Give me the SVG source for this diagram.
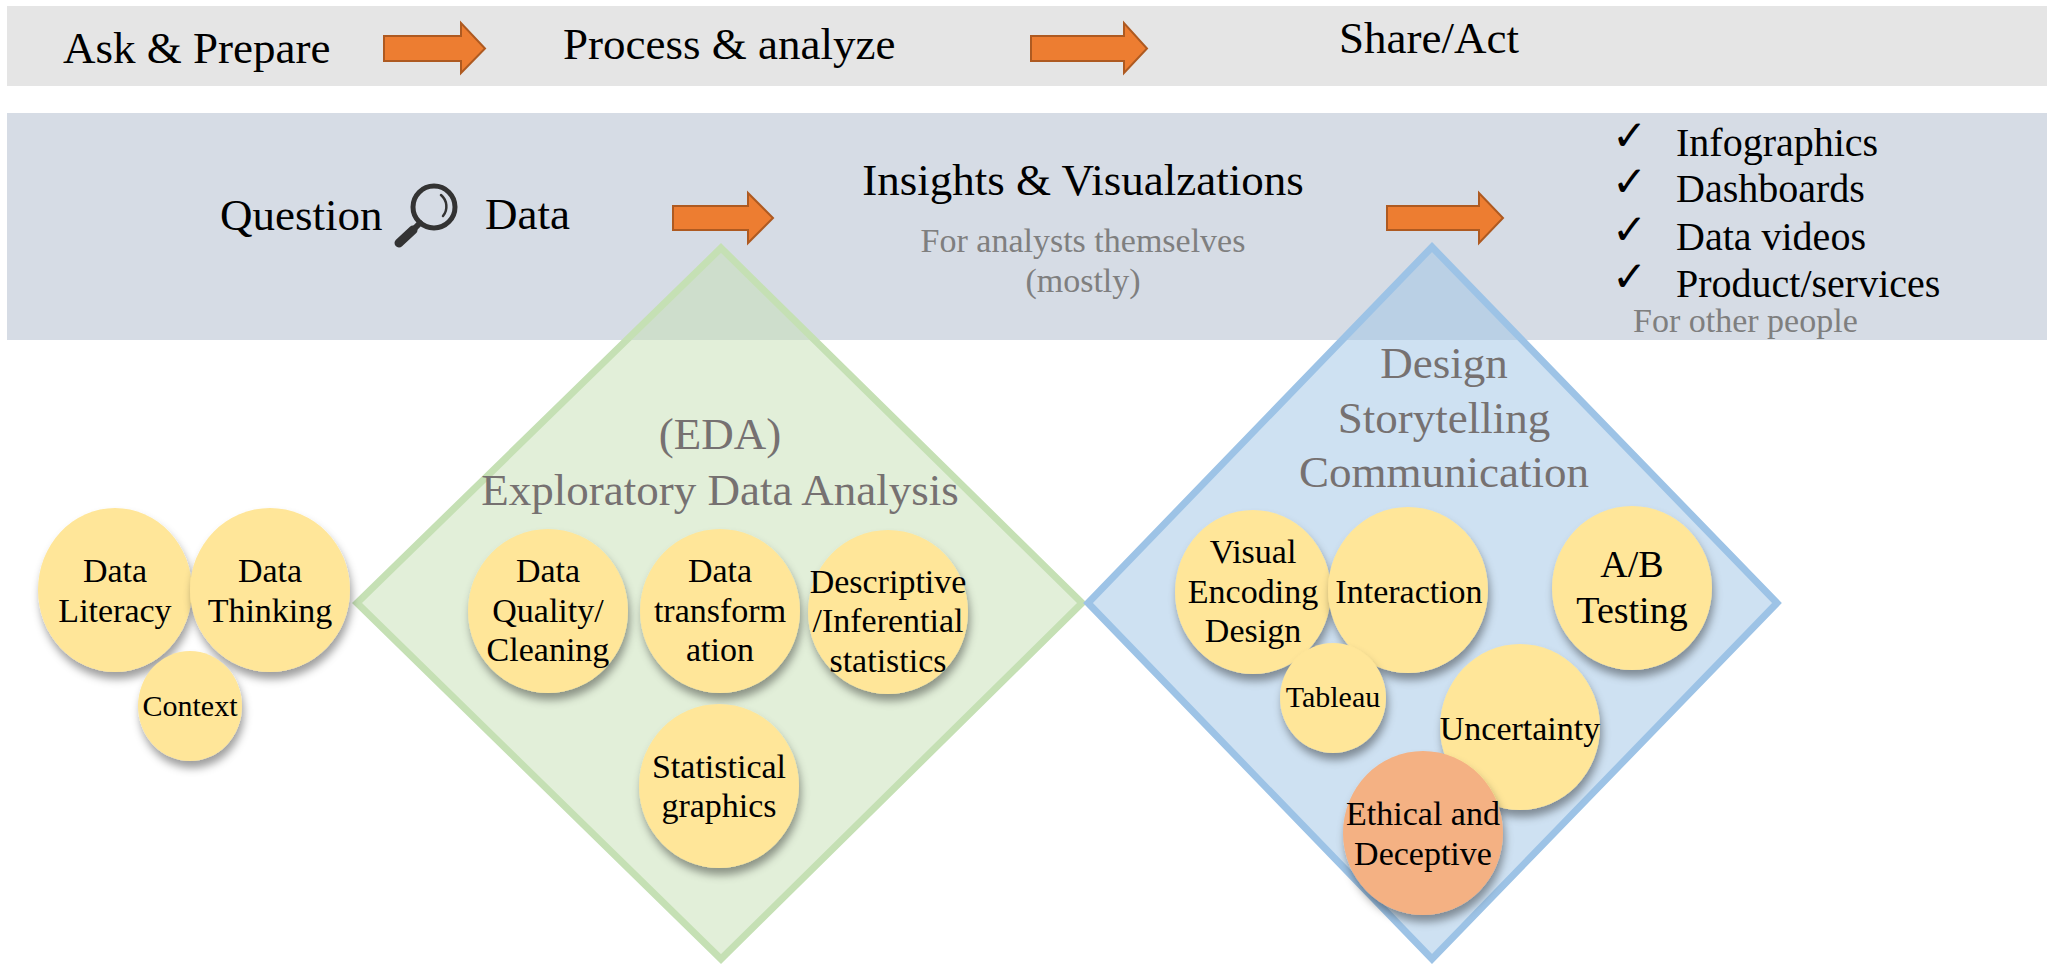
<svg xmlns="http://www.w3.org/2000/svg" width="2055" height="964" viewBox="0 0 2055 964">
<defs>
<filter id="sh" x="-30%" y="-30%" width="160%" height="170%">
<feDropShadow dx="2" dy="7" stdDeviation="4" flood-color="#000" flood-opacity="0.38"/>
</filter>
</defs>
<style>
.hd{font-size:45px;fill:#000;}
.sub{font-size:34px;fill:#7f7f7f;}
.li{font-size:40px;fill:#000;}
.ck{font-size:42px;fill:#000;}
.ttl{font-size:45px;fill:#767171;text-anchor:middle;}
.bub{fill:#ffe699;filter:url(#sh);}
.bub2{fill:#f4b183;filter:url(#sh);}
.bt{font-size:34px;fill:#000;text-anchor:middle;}
.arr{fill:#ed7d31;stroke:#ae5a21;stroke-width:2;}
</style>
<rect id="band-top" x="7" y="6" width="2040" height="80" fill="#e5e5e5"/>
<rect id="band-mid" x="7" y="113" width="2040" height="227" fill="#d6dce5"/>
<g font-family="'Liberation Serif', 'Times New Roman', serif">
<g id="stage-labels">
<text class="hd" x="63" y="63">Ask &amp; Prepare</text>
<text class="hd" x="563" y="59">Process &amp; analyze</text>
<text class="hd" x="1339" y="53">Share/Act</text>
</g>
<g id="question-data">
<text class="hd" x="220" y="230">Question</text>
<g id="magnifier" fill="none" stroke="#333" stroke-linecap="round">
<circle cx="434" cy="207" r="21" stroke-width="5"/>
<line x1="420" y1="223" x2="414" y2="229" stroke-width="6"/>
<line x1="413" y1="230" x2="399" y2="243" stroke-width="9"/>
<path d="M 441 195 A 15 15 0 0 1 443 216" stroke-width="2.5"/>
</g>
<text class="hd" x="485" y="229">Data</text>
</g>
<g id="insights">
<text class="hd" x="1083" y="195" text-anchor="middle">Insights &amp; Visualzations</text>
<text class="sub" x="1083" y="252" text-anchor="middle">For analysts themselves</text>
<text class="sub" x="1083" y="292" text-anchor="middle">(mostly)</text>
</g>
<g id="outputs">
<g font-family="'DejaVu Sans', sans-serif">
<text class="ck" x="1612" y="150">✓</text>
<text class="ck" x="1612" y="196">✓</text>
<text class="ck" x="1612" y="244">✓</text>
<text class="ck" x="1612" y="291">✓</text>
</g>
<text class="li" x="1676" y="156">Infographics</text>
<text class="li" x="1676" y="202">Dashboards</text>
<text class="li" x="1676" y="250">Data videos</text>
<text class="li" x="1676" y="297">Product/services</text>
<text class="sub" x="1633" y="332">For other people</text>
</g>
<g id="connectors">
<path class="arr" d="M384 36 H461 V23 L485 48.5 L461 73 V61 H384 Z"/>
<path class="arr" d="M1031 36 H1124 V23 L1147 48.5 L1124 73 V61 H1031 Z"/>
<path class="arr" d="M673 206 H748 V193 L773 218 L748 243 V230 H673 Z"/>
<path class="arr" d="M1387 206 H1479 V193 L1503 218 L1479 243 V230 H1387 Z"/>
</g>
<g id="eda-diamond">
<polygon points="721,248 1082,603 721,959 357,603" fill="#c5e0b4" fill-opacity="0.5" stroke="#c5e0b4" stroke-width="7"/>
<text class="ttl" x="720" y="449">(EDA)</text>
<text class="ttl" x="720" y="505">Exploratory Data Analysis</text>
</g>
<g id="design-diamond">
<polygon points="1432,247 1777,603 1432,959 1088,603" fill="#9dc3e6" fill-opacity="0.5" stroke="#9dc3e6" stroke-width="7"/>
<text class="ttl" x="1444" y="378">Design</text>
<text class="ttl" x="1444" y="433">Storytelling</text>
<text class="ttl" x="1444" y="487">Communication</text>
</g>
<g id="data-literacy"><ellipse class="bub" cx="115" cy="590" rx="77" ry="82"/><text class="bt" x="115" y="582">Data</text><text class="bt" x="115" y="622">Literacy</text></g>
<g id="data-thinking"><ellipse class="bub" cx="270" cy="590" rx="80" ry="82"/><text class="bt" x="270" y="582">Data</text><text class="bt" x="270" y="622">Thinking</text></g>
<g id="context"><ellipse class="bub" cx="190" cy="706" rx="52" ry="55"/><text class="bt" x="190" y="716" style="font-size:30px">Context</text></g>
<g id="data-quality"><ellipse class="bub" cx="548" cy="611" rx="80" ry="82"/><text class="bt" x="548" y="582">Data</text><text class="bt" x="548" y="622">Quality/</text><text class="bt" x="548" y="661">Cleaning</text></g>
<g id="data-transformation"><ellipse class="bub" cx="720" cy="611" rx="80" ry="82"/><text class="bt" x="720" y="582">Data</text><text class="bt" x="720" y="622">transform</text><text class="bt" x="720" y="661">ation</text></g>
<g id="descriptive"><ellipse class="bub" cx="888" cy="612" rx="80" ry="82"/><text class="bt" x="888" y="593">Descriptive</text><text class="bt" x="888" y="632">/Inferential</text><text class="bt" x="888" y="672">statistics</text></g>
<g id="statistical-graphics"><ellipse class="bub" cx="719" cy="786" rx="80" ry="82"/><text class="bt" x="719" y="778">Statistical</text><text class="bt" x="719" y="817">graphics</text></g>
<g id="visual-encoding"><ellipse class="bub" cx="1253" cy="592" rx="78" ry="82"/><text class="bt" x="1253" y="563">Visual</text><text class="bt" x="1253" y="603">Encoding</text><text class="bt" x="1253" y="642">Design</text></g>
<g id="interaction"><ellipse class="bub" cx="1408" cy="590" rx="80" ry="83"/><text class="bt" x="1409" y="603">Interaction</text></g>
<g id="tableau"><ellipse class="bub" cx="1333" cy="698" rx="53" ry="55"/><text class="bt" x="1333" y="707" style="font-size:30px">Tableau</text></g>
<g id="ab-testing"><ellipse class="bub" cx="1632" cy="588" rx="80" ry="82"/><text class="bt" x="1632" y="577" style="font-size:38px">A/B</text><text class="bt" x="1632" y="623" style="font-size:38px">Testing</text></g>
<g id="uncertainty"><ellipse class="bub" cx="1520" cy="727" rx="80" ry="83"/><text class="bt" x="1520" y="740">Uncertainty</text></g>
<g id="ethical"><ellipse class="bub2" cx="1423" cy="833" rx="80" ry="82"/><text class="bt" x="1423" y="825">Ethical and</text><text class="bt" x="1423" y="865">Deceptive</text></g>
</g>
</svg>
